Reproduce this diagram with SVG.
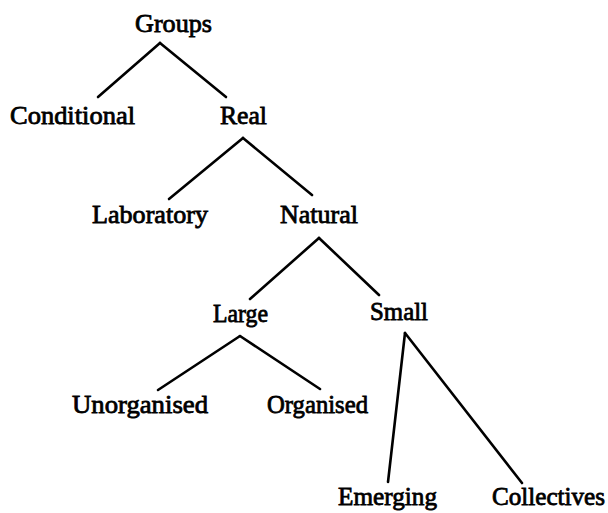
<svg xmlns="http://www.w3.org/2000/svg" width="608" height="513" viewBox="0 0 608 513">
<style>
text{font-family:"Liberation Serif","Times New Roman",serif;font-size:26px;fill:#000;stroke:#000;stroke-width:0.8}
.c line{stroke:#000;stroke-width:2.6;stroke-linecap:round}
</style>
<rect width="608" height="513" fill="#fff"/>
<g class="c" id="connectors">
<line x1="160" y1="43" x2="98" y2="97"/>
<line x1="160" y1="43" x2="226" y2="97"/>
<line x1="243" y1="138" x2="169" y2="199"/>
<line x1="243" y1="138" x2="312" y2="195"/>
<line x1="319" y1="238" x2="250" y2="299"/>
<line x1="319" y1="238" x2="379" y2="295"/>
<line x1="240" y1="336" x2="158" y2="390"/>
<line x1="240" y1="336" x2="320" y2="389"/>
<line x1="405" y1="333" x2="388" y2="482"/>
<line x1="405" y1="333" x2="522" y2="483"/>
</g>
<g id="groups"><text x="135" y="32" textLength="77" lengthAdjust="spacingAndGlyphs">Groups</text></g>
<g id="conditional"><text x="10" y="124" textLength="125" lengthAdjust="spacingAndGlyphs">Conditional</text></g>
<g id="real"><text x="220" y="124" textLength="47" lengthAdjust="spacingAndGlyphs">Real</text></g>
<g id="laboratory"><text x="92" y="223" textLength="116" lengthAdjust="spacingAndGlyphs">Laboratory</text></g>
<g id="natural"><text x="280" y="223" textLength="78" lengthAdjust="spacingAndGlyphs">Natural</text></g>
<g id="large"><text x="213" y="322" textLength="55" lengthAdjust="spacingAndGlyphs">Large</text></g>
<g id="small"><text x="370" y="320" textLength="58" lengthAdjust="spacingAndGlyphs">Small</text></g>
<g id="unorganised"><text x="72" y="413" textLength="136" lengthAdjust="spacingAndGlyphs">Unorganised</text></g>
<g id="organised"><text x="267" y="413" textLength="101" lengthAdjust="spacingAndGlyphs">Organised</text></g>
<g id="emerging"><text x="338" y="505" textLength="99" lengthAdjust="spacingAndGlyphs">Emerging</text></g>
<g id="collectives"><text x="492" y="505" textLength="113" lengthAdjust="spacingAndGlyphs">Collectives</text></g>
</svg>
